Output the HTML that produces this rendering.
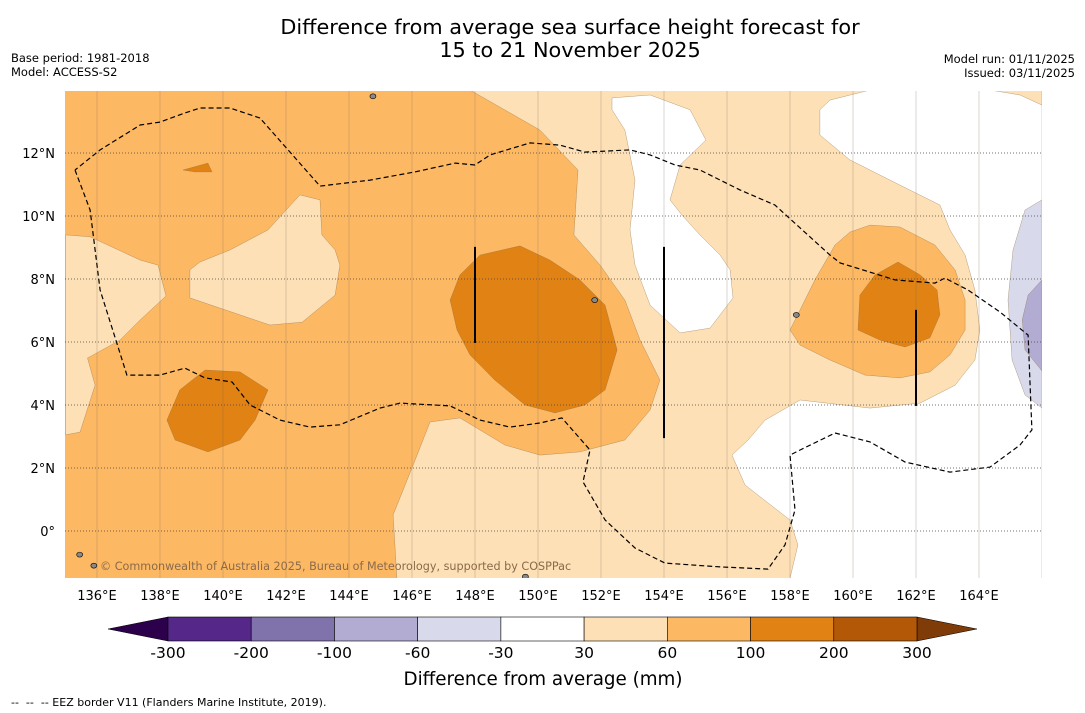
<!DOCTYPE html>
<html><head><meta charset="utf-8">
<style>
body{margin:0;background:#fff;width:1085px;height:713px;overflow:hidden;font-family:"DejaVu Sans","Liberation Sans",sans-serif}
svg{position:absolute;left:0;top:0;font-family:"DejaVu Sans","Liberation Sans",sans-serif}
</style></head>
<body>
<svg id="chart" width="1085" height="713"></svg>
<script>
// ---- data ----
const levels = [-300,-200,-100,-60,-30,30,60,100,200,300];
const levelColors = ['#542788','#8073ac','#b2abd2','#d8daeb','#ffffff','#fee0b6','#fdb863','#e08214','#b35806'];
const lonTicks = [136,138,140,142,144,146,148,150,152,154,156,158,160,162,164];
const latTicks = [0,2,4,6,8,10,12];
const lightMain = [[147.84,14],[150.06,12.73],[151.27,11.46],[151.14,9.40],[151.97,8.44],[152.76,7.33],[153.24,6.06],[153.87,4.79],[153.56,3.84],[152.76,2.89],[151.33,2.51],[150.06,2.41],[148.95,2.73],[147.52,3.59],[146.57,3.46],[146.10,2.25],[145.40,0.51],[145.52,-1.5],[166,-1.5],[166,14]];
const lightLeft = [[135,9.4],[135.78,9.34],[137.37,8.6],[137.94,8.44],[138.19,7.46],[137.37,6.70],[136.73,6.06],[135.7,5.49],[135.94,4.63],[135.46,3.14],[135,3.05]];
const lightCenter = [[138.95,8.29],[139.27,8.54],[140.22,8.92],[141.43,9.56],[142.44,10.67],[143.08,10.51],[143.14,9.40],[143.56,8.92],[143.71,8.44],[143.56,7.49],[142.51,6.63],[141.49,6.54],[140.54,6.86],[138.95,7.40]];
const whiteTop = [[152.35,13.75],[153.56,13.84],[154.83,13.37],[155.33,12.41],[154.51,11.62],[154.19,10.51],[154.57,10.03],[155.14,9.40],[155.78,8.76],[156.10,8.29],[156.19,7.40],[155.46,6.44],[154.51,6.29],[153.56,7.17],[153.08,8.44],[152.92,9.56],[153.08,11.14],[152.76,12.73],[152.35,13.37]];
const whiteRight = [[160.54,14],[159.27,13.68],[158.95,13.37],[158.95,12.57],[159.90,11.78],[161.49,10.98],[162.76,10.35],[163.08,9.56],[163.56,8.76],[163.87,7.65],[164.03,6.38],[163.87,5.43],[163.24,4.63],[162.13,4.06],[160.54,3.90],[158.32,4.16],[157.21,3.52],[156.67,2.89],[156.16,2.41],[156.57,1.46],[158.0,0.35],[158.25,-0.44],[158.0,-1.5],[166,-1.5],[166,13.52],[165.30,13.84],[164.35,14]];
const lav1 = [[166,10.51],[165.46,10.19],[165.08,8.92],[164.92,7.33],[165.05,5.43],[165.46,4.32],[166,3.90]];
const lav2 = [[166,7.97],[165.56,7.49],[165.37,6.70],[165.46,5.75],[166,5.08]];
const orangeRight = [[158.0,6.38],[158.32,7.02],[158.79,7.97],[159.43,9.08],[159.90,9.49],[160.54,9.71],[161.49,9.65],[162.60,9.08],[163.24,8.29],[163.56,7.33],[163.56,6.38],[163.08,5.59],[162.44,5.05],[161.49,4.86],[160.38,4.95],[159.27,5.43],[158.32,5.90]];
const darkRight = [[160.22,7.49],[160.70,8.13],[161.43,8.54],[162.13,8.13],[162.67,7.65],[162.76,6.86],[162.44,6.13],[161.65,5.84],[160.86,6.06],[160.16,6.38]];
const darkCenter = [[147.21,7.33],[147.52,8.13],[148.16,8.76],[149.43,9.05],[150.38,8.60],[151.33,7.97],[152.13,7.17],[152.51,5.75],[152.13,4.48],[151.49,4.0],[150.54,3.75],[149.59,4.0],[148.63,4.79],[147.84,5.59],[147.43,6.38]];
const darkLeft = [[138.22,3.52],[138.63,4.48],[139.43,5.11],[140.54,5.05],[141.43,4.48],[141.02,3.52],[140.54,2.89],[139.52,2.51],[138.48,2.89]];
const darkSpeck = [[138.73,11.46],[139.52,11.68],[139.65,11.40],[139.11,11.40]];
const eez = [[135.3,11.46],[135.78,10.19],[136.1,7.65],[136.95,4.95],[138.0,4.95],[138.79,5.17],[139.43,4.86],[140.29,4.73],[140.86,4.0],[141.81,3.52],[142.76,3.30],[143.71,3.37],[144.98,3.90],[145.62,4.06],[147.21,3.97],[148.16,3.52],[149.11,3.30],[150.06,3.43],[150.76,3.59],[151.65,2.57],[151.43,1.56],[152.13,0.35],[153.08,-0.54],[154.03,-1.02],[155.78,-1.14],[157.30,-1.21],[157.84,-0.44],[158.16,0.67],[158.0,2.41],[158.32,2.57],[159.43,3.11],[160.54,2.83],[161.65,2.19],[163.08,1.87],[164.35,2.03],[165.30,2.73],[165.68,3.21],[165.56,6.22],[164.67,6.95],[163.65,7.65],[162.92,8.03],[162.60,7.87],[161.33,7.97],[159.59,8.51],[159.27,8.76],[157.52,10.35],[156.41,10.83],[155.14,11.46],[154.35,11.62],[153.56,11.94],[152.92,12.10],[151.49,12.03],[150.70,12.25],[149.75,12.32],[148.48,11.94],[148.0,11.62],[147.37,11.68],[146.10,11.40],[144.67,11.14],[143.08,10.95],[141.17,13.11],[140.22,13.43],[139.27,13.43],[138.79,13.27],[138.0,12.98],[137.37,12.89],[136.1,12.10],[135.3,11.46]];
const vlines = [[148,9.02,5.97],[154,9.02,2.95],[162,7.02,3.97]];
const islands = [[135.45,-0.75],[135.9,-1.1],[158.2,6.86],[144.76,13.8],[151.8,7.33],[149.6,-1.45]];

// ---- axes ----
const X0=65,X1=1042,Y0=91,Y1=578;
const px = lon => 97 + (lon-136)*31.5;
const py = lat => 531 - lat*31.5;
const svg = document.getElementById('chart');
const NS='http://www.w3.org/2000/svg';
function mk(tag, attrs, parent){const e=document.createElementNS(NS,tag);for(const k in attrs)e.setAttribute(k,attrs[k]);(parent||svg).appendChild(e);return e;}
const ptsStr = arr => arr.map(p=>px(p[0]).toFixed(1)+','+py(p[1]).toFixed(1)).join(' ');

mk('defs',{}).innerHTML='<clipPath id="mapclip"><rect x="65" y="91" width="977" height="487"/></clipPath>';
const g = mk('g',{'clip-path':'url(#mapclip)'});


const bg = mk('rect',{x:X0,y:Y0,width:X1-X0,height:Y1-Y0,fill:levelColors[6]},g);


const fills = [[lightMain,5,'contour-30-60-main'],[lightLeft,5,'contour-30-60-west'],[lightCenter,5,'contour-30-60-center'],[whiteTop,4,'contour-neutral-north'],[whiteRight,4,'contour-neutral-east'],[lav1,3,'contour-neg-60-30'],[lav2,2,'contour-neg-100-60'],[orangeRight,6,'contour-60-100-east'],[darkRight,7,'contour-100-200-east'],[darkCenter,7,'contour-100-200-center'],[darkLeft,7,'contour-100-200-west'],[darkSpeck,7,'contour-100-200-speck']];
fills.forEach(f=>{
  const p = mk('polygon',{points:ptsStr(f[0]),fill:levelColors[f[1]],stroke:'#8a6a40','stroke-width':0.5,'stroke-opacity':0.6},g);
  
  
});
lonTicks.forEach(l=>{
  const ln = mk('line',{x1:px(l),x2:px(l),y1:Y0,y2:Y1,stroke:'#7a6a5a','stroke-width':0.6,'stroke-opacity':0.45},g);
  
  
});
latTicks.forEach(l=>{
  const ln = mk('line',{x1:X0,x2:X1,y1:py(l),y2:py(l),stroke:'#444','stroke-width':0.8,'stroke-dasharray':'1,2'},g);
  
  
});
const eezPath = mk('polyline',{points:ptsStr(eez),fill:'none',stroke:'#000','stroke-width':1.2,'stroke-dasharray':'5,3'},g);


vlines.forEach(v=>{
  const ln = mk('line',{x1:px(v[0]),x2:px(v[0]),y1:py(v[1]),y2:py(v[2]),stroke:'#000','stroke-width':2},g);
  
  
});
islands.forEach(p=>{
  const c = mk('ellipse',{cx:px(p[0]),cy:py(p[1]),rx:3,ry:2.5,fill:'#888',stroke:'#000','stroke-width':0.6},g);
  
  
});
const wm = mk('text',{x:100,y:570,'font-size':11.2,fill:'#8a6a4a'},g);
wm.textContent='© Commonwealth of Australia 2025, Bureau of Meteorology, supported by COSPPac';



lonTicks.forEach(l=>{
  const t = mk('text',{x:px(l),y:600,'font-size':13,'text-anchor':'middle',fill:'#000'});
  t.textContent=l+'°E';
  
  
});
latTicks.forEach(l=>{
  const t = mk('text',{x:55,y:py(l)+5,'font-size':13,'text-anchor':'end',fill:'#000'});
  t.textContent=l===0?'0°':l+'°N';
  
  
});

// colorbar
const cbX0=168, cbW=(917-168)/9, cbY=617, cbH=24;
const triL = mk('polygon',{points:`108,629 ${cbX0},${cbY} ${cbX0},${cbY+cbH}`,fill:'#2d004b',stroke:'#000','stroke-width':0.5});


const triR = mk('polygon',{points:`977,629 917,${cbY} 917,${cbY+cbH}`,fill:'#7f3b08',stroke:'#000','stroke-width':0.5});


levelColors.forEach((c,i)=>{
  const r = mk('rect',{x:cbX0+i*cbW,y:cbY,width:cbW,height:cbH,fill:c,stroke:'#000','stroke-width':0.6});
  
  
});
levels.forEach((v,i)=>{
  const t = mk('text',{x:cbX0+i*cbW,y:658,'font-size':15.5,'text-anchor':'middle',fill:'#000'});
  t.textContent=v;
  
  
});
function txt(x,y,s,size,anchor,name){const t=mk('text',{x:x,y:y,'font-size':size,'text-anchor':anchor,fill:'#000','xml:space':'preserve'});t.style.whiteSpace='pre';t.textContent=s;return t;}
txt(543,685,'Difference from average (mm)',18.3,'middle','colorbar-title');
txt(570,34,'Difference from average sea surface height forecast for',20.8,'middle','chart-title');
txt(570,57,'15 to 21 November 2025',20.8,'middle','chart-subtitle');
txt(11,62,'Base period: 1981-2018',11.5,'start','base-period');
txt(11,76,'Model: ACCESS-S2',11.5,'start','model-name');
txt(1075,63,'Model run: 01/11/2025',11.5,'end','model-run');
txt(1075,77,'Issued: 03/11/2025',11.5,'end','issued-date');
txt(11,706,'--  --  -- EEZ border V11 (Flanders Marine Institute, 2019).',11,'start','eez-legend');
</script>
</body></html>
